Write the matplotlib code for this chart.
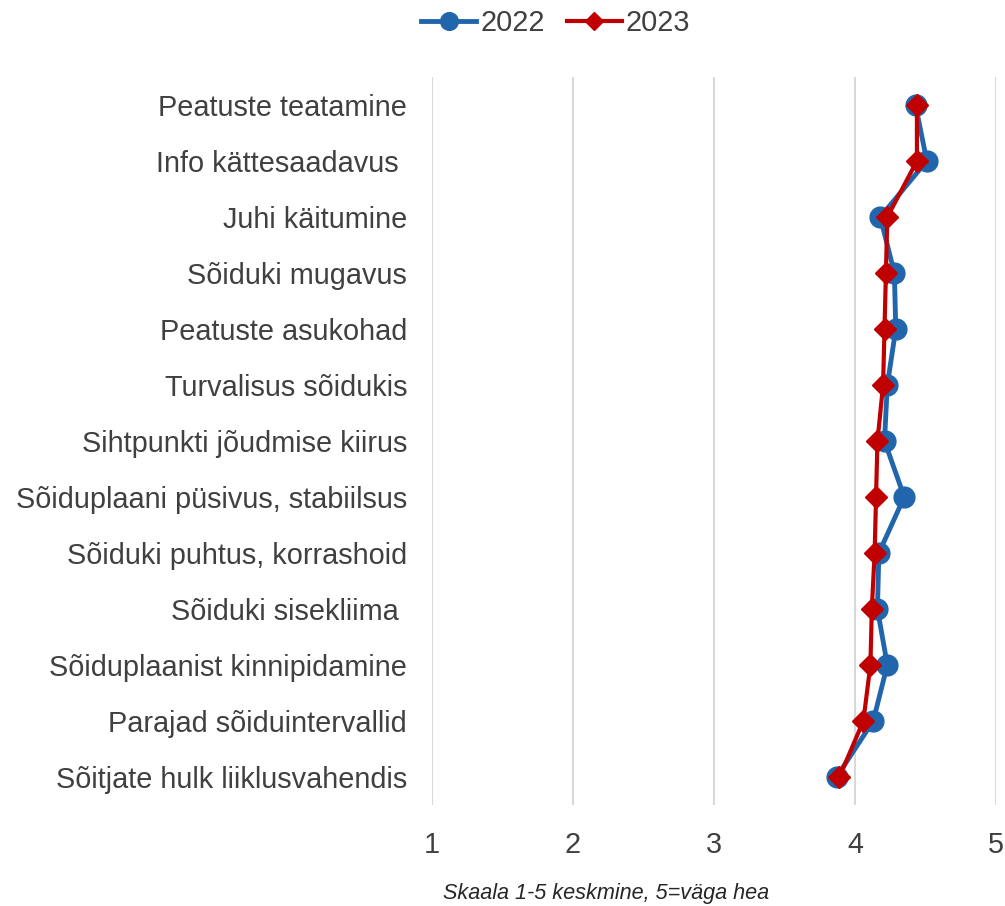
import matplotlib.pyplot as plt
import numpy as np

plt.rcParams['font.family'] = ['Liberation Sans', 'DejaVu Sans']

# survey items, top to bottom
categories = [
    "Peatuste teatamine",
    "Info kättesaadavus ",
    "Juhi käitumine",
    "Sõiduki mugavus",
    "Peatuste asukohad",
    "Turvalisus sõidukis",
    "Sihtpunkti jõudmise kiirus",
    "Sõiduplaani püsivus, stabiilsus",
    "Sõiduki puhtus, korrashoid",
    "Sõiduki sisekliima ",
    "Sõiduplaanist kinnipidamine",
    "Parajad sõiduintervallid",
    "Sõitjate hulk liiklusvahendis",
]
scores_2022 = [4.43, 4.51, 4.18, 4.28, 4.29, 4.23, 4.21, 4.35, 4.17, 4.16, 4.23, 4.13, 3.87]
scores_2023 = [4.44, 4.44, 4.23, 4.22, 4.21, 4.20, 4.16, 4.15, 4.14, 4.12, 4.11, 4.06, 3.89]
x_ticks = [1, 2, 3, 4, 5]

text_col = "#404040"
blue = "#2166AC"
red = "#C00000"

fig = plt.figure(figsize=(10.05, 9.06), dpi=100)
ax = fig.add_axes([0.4299, 0.1115, 0.561, 0.8035])

y = np.arange(len(categories))
ax.plot(scores_2022, y, color=blue, lw=3.5, marker="o", ms=15, label="2022", zorder=3)
ax.plot(scores_2023, y, color=red, lw=3, marker="D", ms=11, label="2023", zorder=4)

ax.set_xlim(1, 5)
ax.set_ylim(len(categories) - 0.5, -0.5)
ax.set_yticks(y)
ax.set_yticklabels(categories)
ax.set_xticks(x_ticks)
ax.set_xticklabels([str(t) for t in x_ticks])
ax.tick_params(axis="both", length=0, labelsize=20.8, labelcolor=text_col)
ax.tick_params(axis="y", pad=18)
ax.tick_params(axis="x", pad=19)
ax.grid(axis="x", color="#D9D9D9", lw=1.5)
ax.set_axisbelow(True)
for s in ax.spines.values():
    s.set_visible(False)

leg = fig.legend(loc="center", bbox_to_anchor=(0.553, 0.9745), ncol=2, frameon=False,
                 fontsize=20.8, handlelength=1.9, handletextpad=0.15, columnspacing=0.75,
                 markerscale=0.85)
for t in leg.get_texts():
    t.set_color(text_col)

fig.text(0.603, 0.0143, "Skaala 1-5 keskmine, 5=väga hea", style="italic", fontsize=15.6,
         color="#262626", ha="center", va="center")

fig.savefig("out.png", dpi=100)
